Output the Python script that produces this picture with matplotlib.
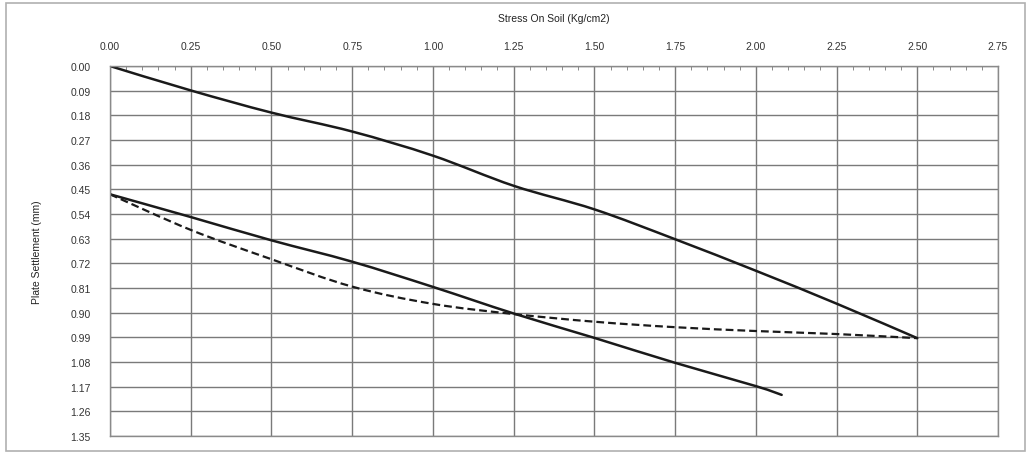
import matplotlib
matplotlib.use("Agg")
import matplotlib.pyplot as plt
from matplotlib.ticker import MultipleLocator, FormatStrFormatter
from matplotlib.patches import Rectangle, PathPatch
from matplotlib.path import Path

# Data
stress_load = [0.00, 0.25, 0.50, 0.75, 1.00, 1.25, 1.50, 1.75, 2.00, 2.25, 2.50]
settle_load = [0.000, 0.089, 0.170, 0.239, 0.327, 0.437, 0.523, 0.632, 0.747, 0.867, 0.993]

stress_lower = [0.00, 0.25, 0.50, 0.75, 1.00, 1.25, 1.50, 1.75, 2.00, 2.08]
settle_lower = [0.468, 0.551, 0.636, 0.714, 0.806, 0.903, 0.992, 1.083, 1.168, 1.200]

stress_dash = [0.00, 0.25, 0.50, 0.75, 1.00, 1.25, 1.50, 1.75, 2.00, 2.25, 2.50]
settle_dash = [0.468, 0.598, 0.705, 0.805, 0.868, 0.905, 0.933, 0.953, 0.967, 0.978, 0.993]

x_title = "Stress On Soil (Kg/cm2)"
y_title = "Plate Settlement (mm)"

plt.rcParams['font.family'] = ['Liberation Sans', 'DejaVu Sans']


def smooth_path(xs, ys, t=1.0 / 6.0):
    """Excel-like smoothed line: Catmull-Rom through data points as cubic Beziers."""
    verts = [(xs[0], ys[0])]
    codes = [Path.MOVETO]
    n = len(xs)
    for i in range(n - 1):
        x0, y0 = (xs[i - 1], ys[i - 1]) if i > 0 else (xs[i], ys[i])
        x1, y1 = xs[i], ys[i]
        x2, y2 = xs[i + 1], ys[i + 1]
        x3, y3 = (xs[i + 2], ys[i + 2]) if i + 2 < n else (xs[i + 1], ys[i + 1])
        c1 = (x1 + (x2 - x0) * t, y1 + (y2 - y0) * t)
        c2 = (x2 - (x3 - x1) * t, y2 - (y3 - y1) * t)
        verts += [c1, c2, (x2, y2)]
        codes += [Path.CURVE4] * 3
    return Path(verts, codes)


fig = plt.figure(figsize=(10.31, 4.56), dpi=100)
fig.patches.append(Rectangle((0.006, 0.008), 0.988, 0.984, transform=fig.transFigure,
                             fill=False, edgecolor='#b0b0b0', linewidth=1.2))
ax = fig.add_axes([0.1067, 0.0417, 0.8613, 0.8113])

ax.add_patch(PathPatch(smooth_path(stress_load, settle_load), fill=False,
                       edgecolor='#1a1a1a', lw=1.8, capstyle='round'))
ax.add_patch(PathPatch(smooth_path(stress_lower, settle_lower), fill=False,
                       edgecolor='#1a1a1a', lw=1.8, capstyle='round'))
ax.add_patch(PathPatch(smooth_path(stress_dash, settle_dash), fill=False,
                       edgecolor='#1a1a1a', lw=1.6, linestyle=(0, (3.5, 1.8))))

ax.set_xlim(0, 2.75)
ax.set_ylim(1.35, 0)
ax.xaxis.set_major_locator(MultipleLocator(0.25))
ax.xaxis.set_minor_locator(MultipleLocator(0.05))
ax.yaxis.set_major_locator(MultipleLocator(0.09))
ax.xaxis.set_major_formatter(FormatStrFormatter('%.2f'))
ax.yaxis.set_major_formatter(FormatStrFormatter('%.2f'))
ax.xaxis.tick_top()
ax.xaxis.set_label_position('top')
ax.tick_params(axis='x', which='major', length=0, pad=11, labelsize=7.5, colors='#333333')
ax.tick_params(axis='x', which='minor', length=3, direction='in', color='#777777')
ax.tick_params(axis='y', which='major', length=0, pad=14, labelsize=7.5, colors='#333333')

ax.grid(True, which='major', color='#7a7a7a', linewidth=1.0)
ax.set_axisbelow(True)
for s in ax.spines.values():
    s.set_color('#8a8a8a')
    s.set_linewidth(1.0)

ax.set_xlabel(x_title, fontsize=7.5, color='#222222', labelpad=14)
ax.set_ylabel(y_title, fontsize=7.5, color='#222222', labelpad=20)

fig.savefig("out.png", dpi=100)
